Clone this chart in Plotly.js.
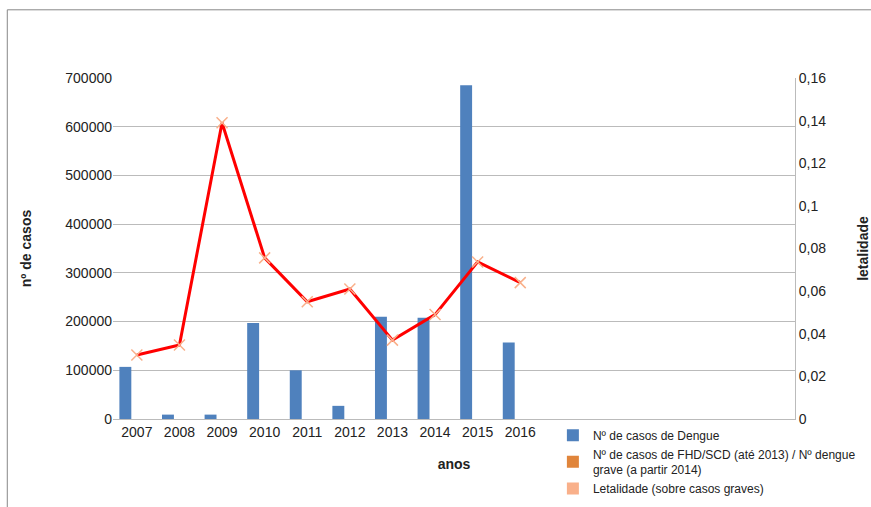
<!DOCTYPE html>
<html>
<head>
<meta charset="utf-8">
<script src="https://cdn.plot.ly/plotly-3.0.1.min.js"></script>
<style>body{margin:0;background:#fff}#chart{width:871px;height:507px}</style>
</head>
<body>
<div id="chart"></div>
<script>
var anos = [2007, 2008, 2009, 2010, 2011, 2012, 2013, 2014, 2015, 2016];
var casosDengue = [107000, 9000, 9000, 197000, 100000, 27000, 210000, 208000, 685000, 157000];
var casosGraves = [0, 0, 0, 0, 0, 0, 0, 0, 0, 0];
var letalidade = [0.030, 0.0347, 0.139, 0.0756, 0.055, 0.061, 0.037, 0.049, 0.0737, 0.064];

var fontFam = 'Liberation Sans, Arial, sans-serif';

var traces = [
  {type: 'bar', name: 'Nº de casos de Dengue', x: anos, y: casosDengue,
   width: 0.28, offset: -0.41, marker: {color: '#4f81bd'}},
  {type: 'bar', name: 'Nº de casos de FHD/SCD (até 2013) / Nº dengue<br>grave (a partir 2014)',
   x: anos, y: casosGraves, width: 0.28, offset: -0.1, marker: {color: '#e0853b'}},
  {type: 'scatter', mode: 'lines+markers', name: 'Letalidade (sobre casos graves)',
   x: anos, y: letalidade, yaxis: 'y2', showlegend: false,
   line: {color: '#ff0000', width: 3},
   marker: {symbol: 'x-thin', size: 11, line: {color: '#f9b08a', width: 1.5}, color: '#f9b08a'}},
  {type: 'bar', name: 'Letalidade (sobre casos graves)', x: anos, y: casosGraves,
   width: 0.01, marker: {color: '#f9b08a'}, hoverinfo: 'skip'}
];

var layout = {
  width: 871, height: 507,
  margin: {l: 113, r: 76, t: 78, b: 88, autoexpand: false},
  paper_bgcolor: '#fff', plot_bgcolor: '#fff',
  font: {family: fontFam, size: 14, color: '#222'},
  showlegend: true,
  legend: {x: 0.645, y: -0.005, xanchor: 'left', yanchor: 'top',
           font: {size: 12, color: '#222'}, tracegroupgap: 0, bgcolor: 'rgba(0,0,0,0)',
           itemwidth: 30},
  xaxis: {range: [2006.44, 2022.45], tickvals: anos, ticktext: anos.map(String),
          showgrid: false, zeroline: false, showline: true, linecolor: '#bbb', ticks: '',
          automargin: false,
          title: {text: '<b>anos</b>', font: {size: 14}, standoff: 20}},
  yaxis: {range: [0, 700000], dtick: 100000, tickformat: 'd', gridcolor: '#bbb',
          zeroline: false, ticks: '', ticklen: 0, automargin: false,
          title: {text: '<b>nº de casos</b>', font: {size: 14}, standoff: 30}},
  yaxis2: {overlaying: 'y', side: 'right', range: [0, 0.16], dtick: 0.02,
           showgrid: false, zeroline: false, automargin: false,
           showline: true, linecolor: '#bbb', ticks: '',
           tickformat: '.2~f',
           title: {text: '<b>letalidade</b>', font: {size: 14}, standoff: 40}},
  separators: ',.',
  shapes: [{type: 'rect', xref: 'paper', yref: 'paper', x0: -0.155, x1: 1.5, y0: -0.6, y1: 1.2,
            line: {color: '#888', width: 1}}]
};

Plotly.newPlot('chart', traces, layout, {displayModeBar: false});
</script>
</body>
</html>
